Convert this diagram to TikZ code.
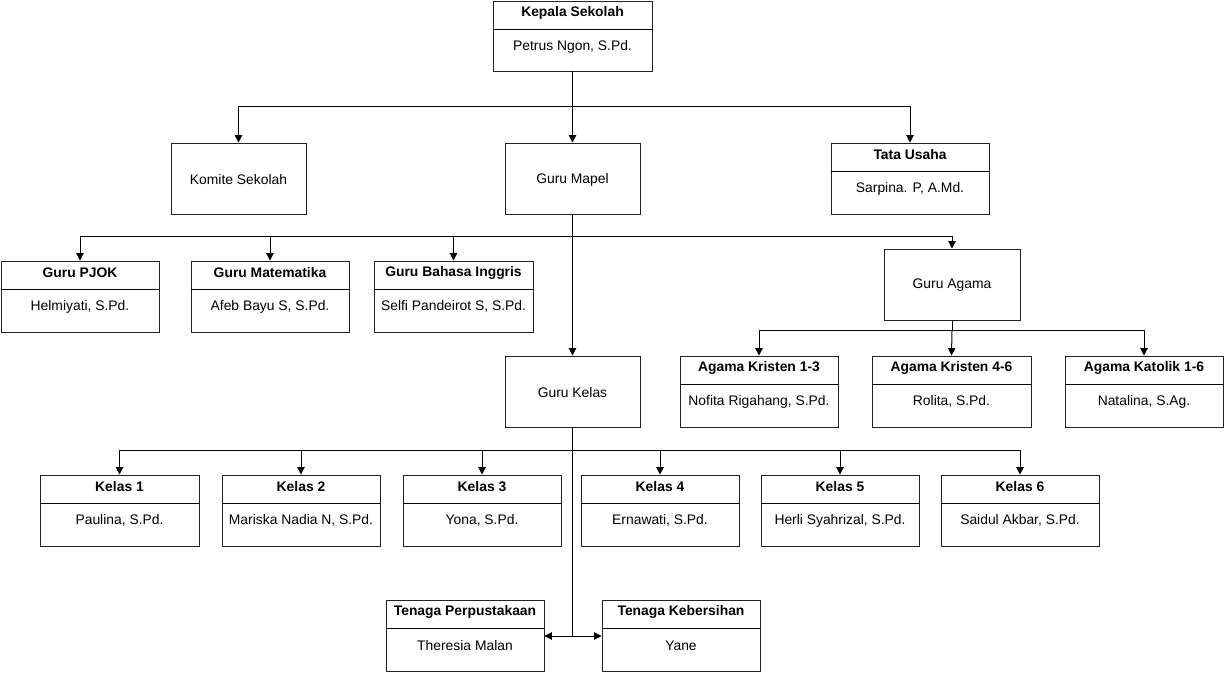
\documentclass[tikz,border=0pt]{standalone}
\usepackage{fontspec}
\setmainfont{Liberation Sans}
\usetikzlibrary{arrows.meta,fit}
\definecolor{bordergray}{HTML}{222222}
\tikzset{
  box/.style={draw=bordergray, line width=0.7pt, inner sep=0pt, fill=white},
  sepline/.style={line width=1.4pt},
  conn/.style={line width=0.75pt},
  arr/.style={conn, -{Triangle[length=5.5pt,width=5.5pt]}},
  txt/.style={font=\fontsize{10.4}{12}\selectfont, inner sep=0pt},
  ttl/.style={font=\fontsize{10.4}{12}\selectfont\bfseries, inner sep=0pt}
}
\newcommand\tbox[7]{%
  \node[box, fit={(#2,#3) (#4,#5)}] (#1) {};
  \draw[sepline] (#2,{#3+28.5}) -- (#4,{#3+28.5});
  \node[ttl] (#1-t) at ({(#2+#4)/2},{#3+12}) {#6};
  \node[txt] (#1-b) at ({(#2+#4)/2},{#3+45.5}) {#7};
}
\newcommand\pbox[6]{%
  \node[box, fit={(#2,#3) (#4,#5)}] (#1) {};
  \node[txt] (#1-l) at ([yshift=-0.75pt]#1.center) {#6};
}
\begin{document}
\begin{tikzpicture}[x=0.75pt,y=-0.75pt]
\useasboundingbox (0,0) rectangle (1225,673);
% boxes
\tbox{kep}{493}{1}{652}{71}{Kepala Sekolah}{Petrus Ngon, S.Pd.}
\pbox{kom}{171}{143}{306}{214}{Komite Sekolah}
\pbox{map}{505}{143}{640}{214}{Guru Mapel}
\tbox{tu}{831}{143}{989}{214}{Tata Usaha}{Sarpina. P, A.Md.}
\tbox{pjok}{1}{261}{159}{332}{Guru PJOK}{Helmiyati, S.Pd.}
\tbox{mat}{191}{261}{349}{332}{Guru Matematika}{Afeb Bayu S, S.Pd.}
\tbox{big}{374}{261}{533}{332}{Guru Bahasa Inggris}{Selfi Pandeirot S, S.Pd.}
\pbox{aga}{884}{249}{1020}{320}{Guru Agama}
\pbox{kel}{505}{356}{640}{427}{Guru Kelas}
\tbox{ak1}{680}{356}{838}{427}{Agama Kristen 1-3}{Nofita Rigahang, S.Pd.}
\tbox{ak4}{872}{356}{1031}{427}{Agama Kristen 4-6}{Rolita, S.Pd.}
\tbox{akt}{1065}{356}{1223}{427}{Agama Katolik 1-6}{Natalina, S.Ag.}
\tbox{k1}{40}{475}{199}{546}{Kelas 1}{Paulina, S.Pd.}
\tbox{k2}{222}{475}{380}{546}{Kelas 2}{Mariska Nadia N, S.Pd.}
\tbox{k3}{403}{475}{561}{546}{Kelas 3}{Yona, S.Pd.}
\tbox{k4}{581}{475}{739}{546}{Kelas 4}{Ernawati, S.Pd.}
\tbox{k5}{761}{475}{919}{546}{Kelas 5}{Herli Syahrizal, S.Pd.}
\tbox{k6}{941}{475}{1099}{546}{Kelas 6}{Saidul Akbar, S.Pd.}
\tbox{per}{386}{600}{544}{671}{Tenaga Perpustakaan}{Theresia Malan}
\tbox{keb}{602}{600}{760}{671}{Tenaga Kebersihan}{Yane}
% junctions
\coordinate (j1) at (572.5,107);
\coordinate (j2) at (572.5,237);
\coordinate (j3) at (952,331);
\coordinate (j4) at (572.5,451);
\coordinate (j5) at (572.5,636);
% connectors
\draw[conn] (kep.south) -- (j1);
\draw[arr] (j1) -| (kom.north);
\draw[arr] (j1) -- (map.north);
\draw[arr] (j1) -| (tu.north);
\draw[arr] (map.south) -- (kel.north);
\draw[arr] (j2) -| (pjok.north);
\draw[arr] (j2) -| (mat.north);
\draw[arr] (j2) -| (big.north);
\draw[arr] (j2) -| (aga.north);
\draw[conn] (aga.south) -- (j3);
\draw[arr] (j3) -| (ak1.north);
\draw[arr] (j3) -- (ak4.north);
\draw[arr] (j3) -| (akt.north);
\draw[conn] (kel.south) -- (j5);
\draw[arr] (j4) -| (k1.north);
\draw[arr] (j4) -| (k2.north);
\draw[arr] (j4) -| (k3.north);
\draw[arr] (j4) -| (k4.north);
\draw[arr] (j4) -| (k5.north);
\draw[arr] (j4) -| (k6.north);
\draw[arr] (j5) -- (per.east |- j5);
\draw[arr] (j5) -- (keb.west |- j5);
\end{tikzpicture}
\end{document}
